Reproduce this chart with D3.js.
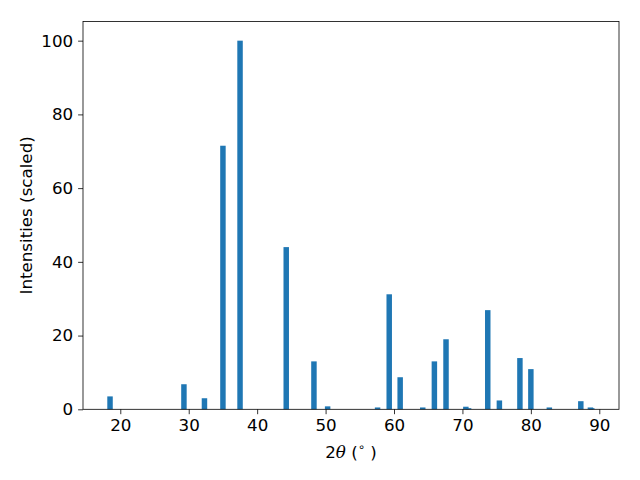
<!DOCTYPE html>
<html><head><meta charset="utf-8">
<script src="https://cdn.jsdelivr.net/npm/d3@7"></script>
<style>body{margin:0;background:#fff}svg{display:block}text{font-family:"DejaVu Sans",sans-serif}</style>
</head><body><svg id="c" width="640" height="480"></svg>
<script>
const angles = [18.5, 29.3, 32.3, 35.0, 37.5, 44.25, 48.3, 50.3, 57.6, 59.3, 60.9, 64.2, 65.9, 67.6, 70.5, 70.9, 73.7, 75.4, 78.4, 80.0, 82.7, 87.3, 88.7, 88.9];
const intensities = [3.5, 6.8, 3.0, 71.5, 100, 44, 13.0, 0.8, 0.5, 31.2, 8.7, 0.5, 13.0, 19.0, 0.7, 0.3, 26.9, 2.4, 13.9, 10.9, 0.5, 2.2, 0.5, 0.3];
const xTicks = [20, 30, 40, 50, 60, 70, 80, 90];
const yTicks = [0, 20, 40, 60, 80, 100];
const barWidth = 0.8;

const L = 83, T = 21.5, R = 619, B = 409.3;
const FS = 16.7;
const svg = d3.select("#c");
const x = d3.scaleLinear().domain([14.55, 92.88]).range([L, R]);
const y = d3.scaleLinear().domain([0, 105.2]).range([B, T]);

svg.append("g").selectAll("rect").data(angles).join("rect")
  .attr("x", (d) => x(d - barWidth / 2))
  .attr("width", (d) => x(d + barWidth / 2) - x(d - barWidth / 2))
  .attr("y", (d, i) => y(intensities[i]))
  .attr("height", (d, i) => B - y(intensities[i]))
  .attr("fill", "#1f77b4");

const xa = svg.append("g").attr("transform", `translate(0,${B})`)
  .call(d3.axisBottom(x).tickValues(xTicks).tickSize(4.9).tickPadding(4.9).tickFormat(d3.format("d")));
const ya = svg.append("g").attr("transform", `translate(${L},0)`)
  .call(d3.axisLeft(y).tickValues(yTicks).tickSize(4.9).tickPadding(4.9).tickFormat(d3.format("d")));
[xa, ya].forEach(a => {
  a.attr("font-size", FS).attr("font-family", "DejaVu Sans");
  a.select(".domain").remove();
  a.selectAll("line").attr("stroke", "#000").attr("stroke-width", 0.8);
  a.selectAll("text").attr("font-size", FS).attr("fill", "#000");
});

svg.append("rect").attr("x", L).attr("y", T).attr("width", R - L).attr("height", B - T)
  .attr("fill", "none").attr("stroke", "#000").attr("stroke-width", 0.8);

const xl = svg.append("text").attr("x", (L + R) / 2).attr("y", 458).attr("text-anchor", "middle")
  .attr("font-size", FS).attr("fill", "#000");
xl.append("tspan").text("2");
xl.append("tspan").attr("font-family", "DejaVu Serif").attr("font-style", "italic").text("θ");
xl.append("tspan").text(" (");
xl.append("tspan").attr("font-size", 11.5).attr("dy", -7).text("∘");
xl.append("tspan").attr("dy", 7).text(" )");

svg.append("text").attr("transform", `translate(32,${(T + B) / 2}) rotate(-90)`)
  .attr("text-anchor", "middle").attr("font-size", FS).attr("fill", "#000")
  .text("Intensities (scaled)");
</script></body></html>
